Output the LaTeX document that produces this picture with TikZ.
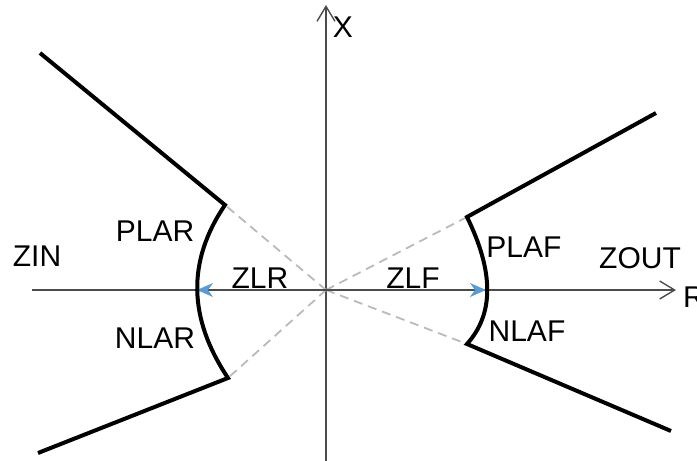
\documentclass[tikz,border=0pt]{standalone}
\usepackage{fontspec}
\setmainfont{Liberation Sans}
\usetikzlibrary{arrows.meta}
\definecolor{blueA}{RGB}{91,155,213}
\begin{document}
\begin{tikzpicture}[x=1pt,y=1pt,
    axis/.style={draw=black!70,line width=1.4pt},
    zone/.style={line width=4pt,line join=miter},
    guide/.style={draw=black!27,line width=1.8pt,dash pattern=on 9pt off 6pt},
    reach/.style={draw=black!70,line width=1.4pt,-{Stealth[length=16pt,width=14pt,inset=5pt,color=blueA]}},
    lbl/.style={font=\fontsize{30}{33}\selectfont,inner sep=0pt}]
    \useasboundingbox (-326,-171) rectangle (371,290);

    % corners of the characteristic
    \coordinate (o) at (0,0);
    \coordinate (ul) at (-286,237);
    \coordinate (plar) at (-101,85);
    \coordinate (zlr) at (-129,0);
    \coordinate (nlar) at (-98,-88);
    \coordinate (ll) at (-288,-163);
    \coordinate (ur) at (330,177);
    \coordinate (plaf) at (141,73);
    \coordinate (zlf) at (160,0);
    \coordinate (nlaf) at (141,-54);
    \coordinate (lr) at (345,-141);

    % axes
    \coordinate (xw) at (-294,0);
    \coordinate (xe) at (350,0);
    \coordinate (ys) at (0,-175);
    \coordinate (yn) at (0,285);
    \draw[axis,-{Straight Barb[length=15pt,width=18pt]}] (xw) -- (xe);
    \draw[axis,-{Straight Barb[length=15pt,width=18pt]}] (ys) -- (yn);
    \node[lbl,anchor=west] (rlab) at (357,-7) {R};
    \node[lbl] (xlab) at (17,263) {X};

    % dashed lines through the origin
    \foreach \c in {plar,nlar,plaf,nlaf}{
      \draw[guide] (o) -- (\c);
    }

    % reach arrows
    \draw[reach] (o) -- (zlr);
    \draw[reach] (o) -- (zlf);

    % zone boundaries
    \draw[zone] (ul) -- (plar) .. controls (-139,29) and (-138,-28) .. (nlar) -- (ll);
    \draw[zone] (ur) -- (plaf) .. controls (168,18) and (168,-24) .. (nlaf) -- (lr);

    \node[lbl] (zin) at (-289,34) {ZIN};
    \node[lbl] (plarlab) at (-171,59) {PLAR};
    \node[lbl] (nlarlab) at (-171,-48) {NLAR};
    \node[lbl] (zlrlab) at (-66,12) {ZLR};
    \node[lbl] (zlflab) at (87,12) {ZLF};
    \node[lbl] (plaflab) at (198,43) {PLAF};
    \node[lbl] (nlaflab) at (201,-41) {NLAF};
    \node[lbl] (zout) at (314,32) {ZOUT};
\end{tikzpicture}
\end{document}
